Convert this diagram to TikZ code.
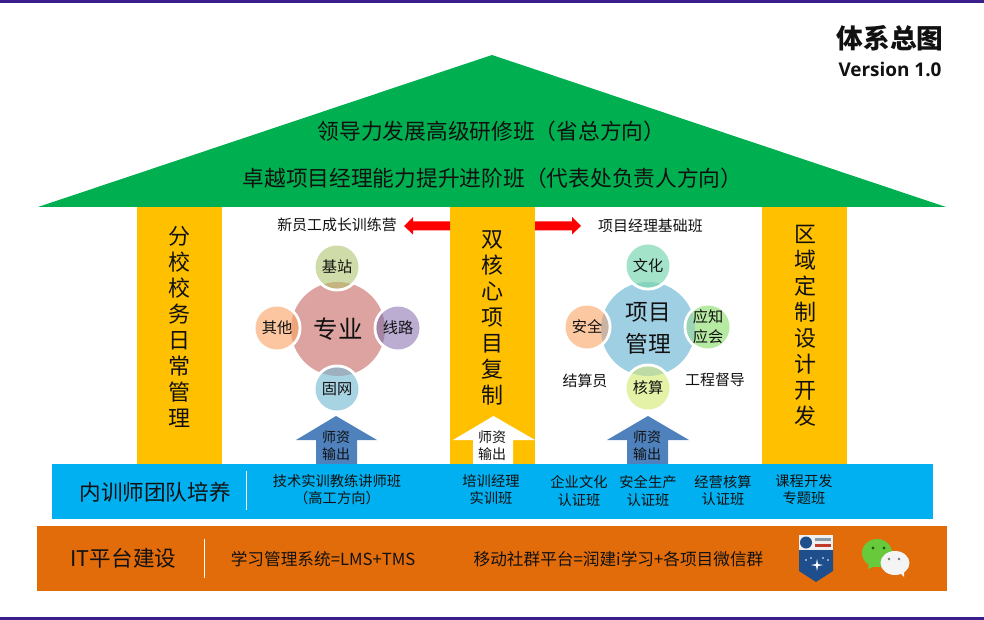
\documentclass[tikz,border=0pt]{standalone}
\usepackage{fontspec}
\setmainfont{Noto Sans CJK SC}
\newfontfamily\latinbold{Open Sans}
\definecolor{roofgreen}{HTML}{00B050}
\definecolor{pillar}{HTML}{FFC000}
\definecolor{bandblue}{HTML}{00B0F0}
\definecolor{bandorange}{HTML}{E36C0A}
\definecolor{steel}{HTML}{4F81BD}
\definecolor{edgepurple}{HTML}{3A1F8C}
\definecolor{inktext}{HTML}{111111}
\definecolor{hubpink}{HTML}{DDA3A1}
\definecolor{aone}{HTML}{CFDBA8}\definecolor{aonel}{HTML}{C4B47F}
\definecolor{atwo}{HTML}{FCC6A0}\definecolor{atwol}{HTML}{EDA57D}
\definecolor{athree}{HTML}{BBADD2}\definecolor{athreel}{HTML}{A684A3}
\definecolor{afour}{HTML}{A8D3E3}\definecolor{afourl}{HTML}{9FB0BF}
\definecolor{hubblue}{HTML}{9FCFE2}
\definecolor{bone}{HTML}{A3E3CA}\definecolor{bonel}{HTML}{86D3C0}
\definecolor{btwo}{HTML}{FBC8A2}\definecolor{btwol}{HTML}{C9B5A5}
\definecolor{bthree}{HTML}{B6EAA3}\definecolor{bthreel}{HTML}{9CD4B6}
\definecolor{bfour}{HTML}{E3F2A6}\definecolor{bfourl}{HTML}{BEDBA6}
\definecolor{badgeblue}{HTML}{1F4E8C}
\definecolor{badgelight}{HTML}{EFEFEF}
\definecolor{badgered}{HTML}{C0392B}
\definecolor{badgegrey}{HTML}{8899AA}
\definecolor{chatgreen}{HTML}{68C93B}
\definecolor{chatdark}{HTML}{1D5F1A}
\definecolor{chatwhite}{HTML}{F4F4F4}
\definecolor{chatgrey}{HTML}{777777}
\newcommand{\fs}[1]{\fontsize{#1}{#1}\selectfont}
\newcommand{\vstack}[1]{\fontsize{16.5}{19.5}\selectfont #1}
\newcommand{\petal}[7]{%
  \fill[white] (#2,#3) circle (24.5);
  \fill[#4] (#2,#3) circle (21.5);
  \begin{scope}\clip (#7) circle (47); \fill[#5] (#2,#3) circle (21.5); \end{scope}
  \node[petaltext] (#1) at (#2,#3) {#6};
}
\tikzset{
  x=0.75pt, y=-0.75pt,
  txt/.style={inner sep=0pt, text=inktext, align=center},
  roofline/.style={txt, font=\fs{16.3}},
  pillartext/.style={txt, font=\vstack{}, text width=20pt},
  sidelabel/.style={txt, font=\fs{11.2}},
  bandtitle/.style={txt, font=\fs{16.2}},
  classlabel/.style={txt, font=\fontsize{10.7}{12.8}\selectfont},
  platformlabel/.style={txt, font=\fs{12.5}},
  petaltext/.style={txt, font=\fontsize{11.4}{15}\selectfont},
  hubtext/.style={txt, font=\fontsize{18.4}{24}\selectfont},
  hubtextb/.style={txt, font=\fontsize{17}{24}\selectfont},
  arrowtext/.style={txt, font=\fontsize{10.5}{13}\selectfont},
  separator/.style={draw=white, line width=0.7pt},
}
\begin{document}
\begin{tikzpicture}
\useasboundingbox (0,0) rectangle (984,620);
\fill[white] (0,0) rectangle (984,620);
\fill[edgepurple] (0,0) rectangle (984,3);
\fill[edgepurple] (0,617) rectangle (984,620);

% pillars
\fill[pillar] (137,207) rectangle (222,464);
\fill[pillar] (450,207) rectangle (535,464);
\fill[pillar] (762,207) rectangle (847,464);

% roof
\fill[roofgreen] (492,55) -- (946,207) -- (38,207) -- cycle;
\node[roofline] (lead) at (491.5,131) {领导力发展高级研修班（省总方向）};
\node[roofline] (excel) at (492.5,178) {卓越项目经理能力提升进阶班（代表处负责人方向）};

% title
\node[txt, font=\fs{20}\bfseries] (title) at (890,38) {体系总图};
\node[txt, font=\latinbold\fs{14.2}\bfseries] (ver) at (890,69) {Version 1.0};

% pillar text
\node[pillartext] (p1) at (179.5,327) {分\\校\\校\\务\\日\\常\\管\\理};
\node[pillartext] (p2) at (492.5,318) {双\\核\\心\\项\\目\\复\\制};
\node[pillartext] (p3) at (805,326) {区\\域\\定\\制\\设\\计\\开\\发};

% red arrows
\fill[red] (450,221.5) -- (413,221.5) -- (413,217) -- (404,226) -- (413,234.5) -- (413,230.5) -- (450,230.5) -- cycle;
\fill[red] (535,221.5) -- (572,221.5) -- (572,217) -- (581,226) -- (572,234.5) -- (572,230.5) -- (535,230.5) -- cycle;
\node[sidelabel] (newstaff) at (337,225) {新员工成长训练营};
\node[sidelabel] (pmbase) at (650.5,226) {项目经理基础班};

% left cluster
\coordinate (hubA) at (338,329);
\fill[hubpink] (hubA) circle (47);
\node[hubtext] (hubAtext) at (hubA) {专业};
\petal{a1}{337}{267}{aone}{aonel}{基站}{hubA}
\petal{a2}{277}{328}{atwo}{atwol}{其他}{hubA}
\petal{a3}{398}{328}{athree}{athreel}{线路}{hubA}
\petal{a4}{337}{389}{afour}{afourl}{固网}{hubA}

% right cluster
\coordinate (hubB) at (648,329);
\fill[hubblue] (hubB) circle (47);
\node[hubtextb] (hubBtext) at (648,328) {项目\\管理};
\petal{b1}{648}{266}{bone}{bonel}{文化}{hubB}
\petal{b2}{587}{327}{btwo}{btwol}{安全}{hubB}
\petal{b3}{708}{327}{bthree}{bthreel}{应知\\应会}{hubB}
\petal{b4}{648}{388}{bfour}{bfourl}{核算}{hubB}
\node[sidelabel] (settle) at (585,381) {结算员};
\node[sidelabel] (super) at (715,380) {工程督导};

% up arrows
\fill[steel] (336,416) -- (377,440) -- (357,440) -- (357,464) -- (316,464) -- (316,440) -- (296,440) -- cycle;
\node[arrowtext] (ta) at (336,446) {师资\\输出};
\fill[white] (493.5,416) -- (535,440) -- (513,440) -- (513,464) -- (473,464) -- (473,440) -- (453,440) -- cycle;
\node[arrowtext] (tb) at (492,446) {师资\\输出};
\fill[steel] (648,416) -- (689,440) -- (668,440) -- (668,464) -- (627,464) -- (627,440) -- (607,440) -- cycle;
\node[arrowtext] (tc) at (647,446) {师资\\输出};

% blue band
\fill[bandblue] (52,464) rectangle (933,519);
\node[bandtitle] (bt) at (155,492) {内训师团队培养};
\draw[separator] (246,471) -- (246,510);
\node[classlabel] (c1) at (337,489.5) {技术实训教练讲师班\\（高工方向）};
\node[classlabel] (c2) at (491,489.5) {培训经理\\实训班};
\node[classlabel] (c3) at (579,491) {企业文化\\认证班};
\node[classlabel] (c4) at (648,491) {安全生产\\认证班};
\node[classlabel] (c5) at (723,491) {经营核算\\认证班};
\node[classlabel] (c6) at (804,489.5) {课程开发\\专题班};

% orange band
\fill[bandorange] (37,526) rectangle (947,591);
\node[bandtitle] (it) at (123.5,558) {IT平台建设};
\draw[separator] (204,539) -- (204,578);
\node[platformlabel] (lms) at (323,559) {学习管理系统=LMS+TMS};
\node[platformlabel] (mob) at (618.5,559) {移动社群平台=润建i学习+各项目微信群};

% badge
\fill[badgeblue] (799,535) -- (833,535) -- (833,571) -- (816,582) -- (799,571) -- cycle;
\fill[badgelight] (799,535) rectangle (833,550);
\fill[badgeblue] (806,542.5) circle (6);
\fill[badgered] (815,544) rectangle (831,547);
\fill[badgegrey] (815,538) rectangle (831,541);
\fill[white] (816,564) -- (817,559) -- (818,564) -- (823,565) -- (818,566) -- (817,571) -- (816,566) -- (811,565) -- cycle;
\foreach \sx/\sy in {806/560,811/558,823/558,828/560}{\fill[white] (\sx,\sy) circle (0.9);}

% chat icon
\fill[chatgreen] (877,553) ellipse (15 and 14);
\fill[chatgreen] (869,562) -- (868,569) -- (878,565) -- cycle;
\fill[chatdark] (873,548) circle (1.6);
\fill[chatdark] (884,548) circle (1.6);
\fill[chatwhite] (895,563) ellipse (14.5 and 12);
\fill[chatwhite] (899,572) -- (904,577) -- (904,569) -- cycle;
\fill[chatgrey] (889,559) circle (1.4);
\fill[chatgrey] (899,559) circle (1.4);
\end{tikzpicture}
\end{document}
